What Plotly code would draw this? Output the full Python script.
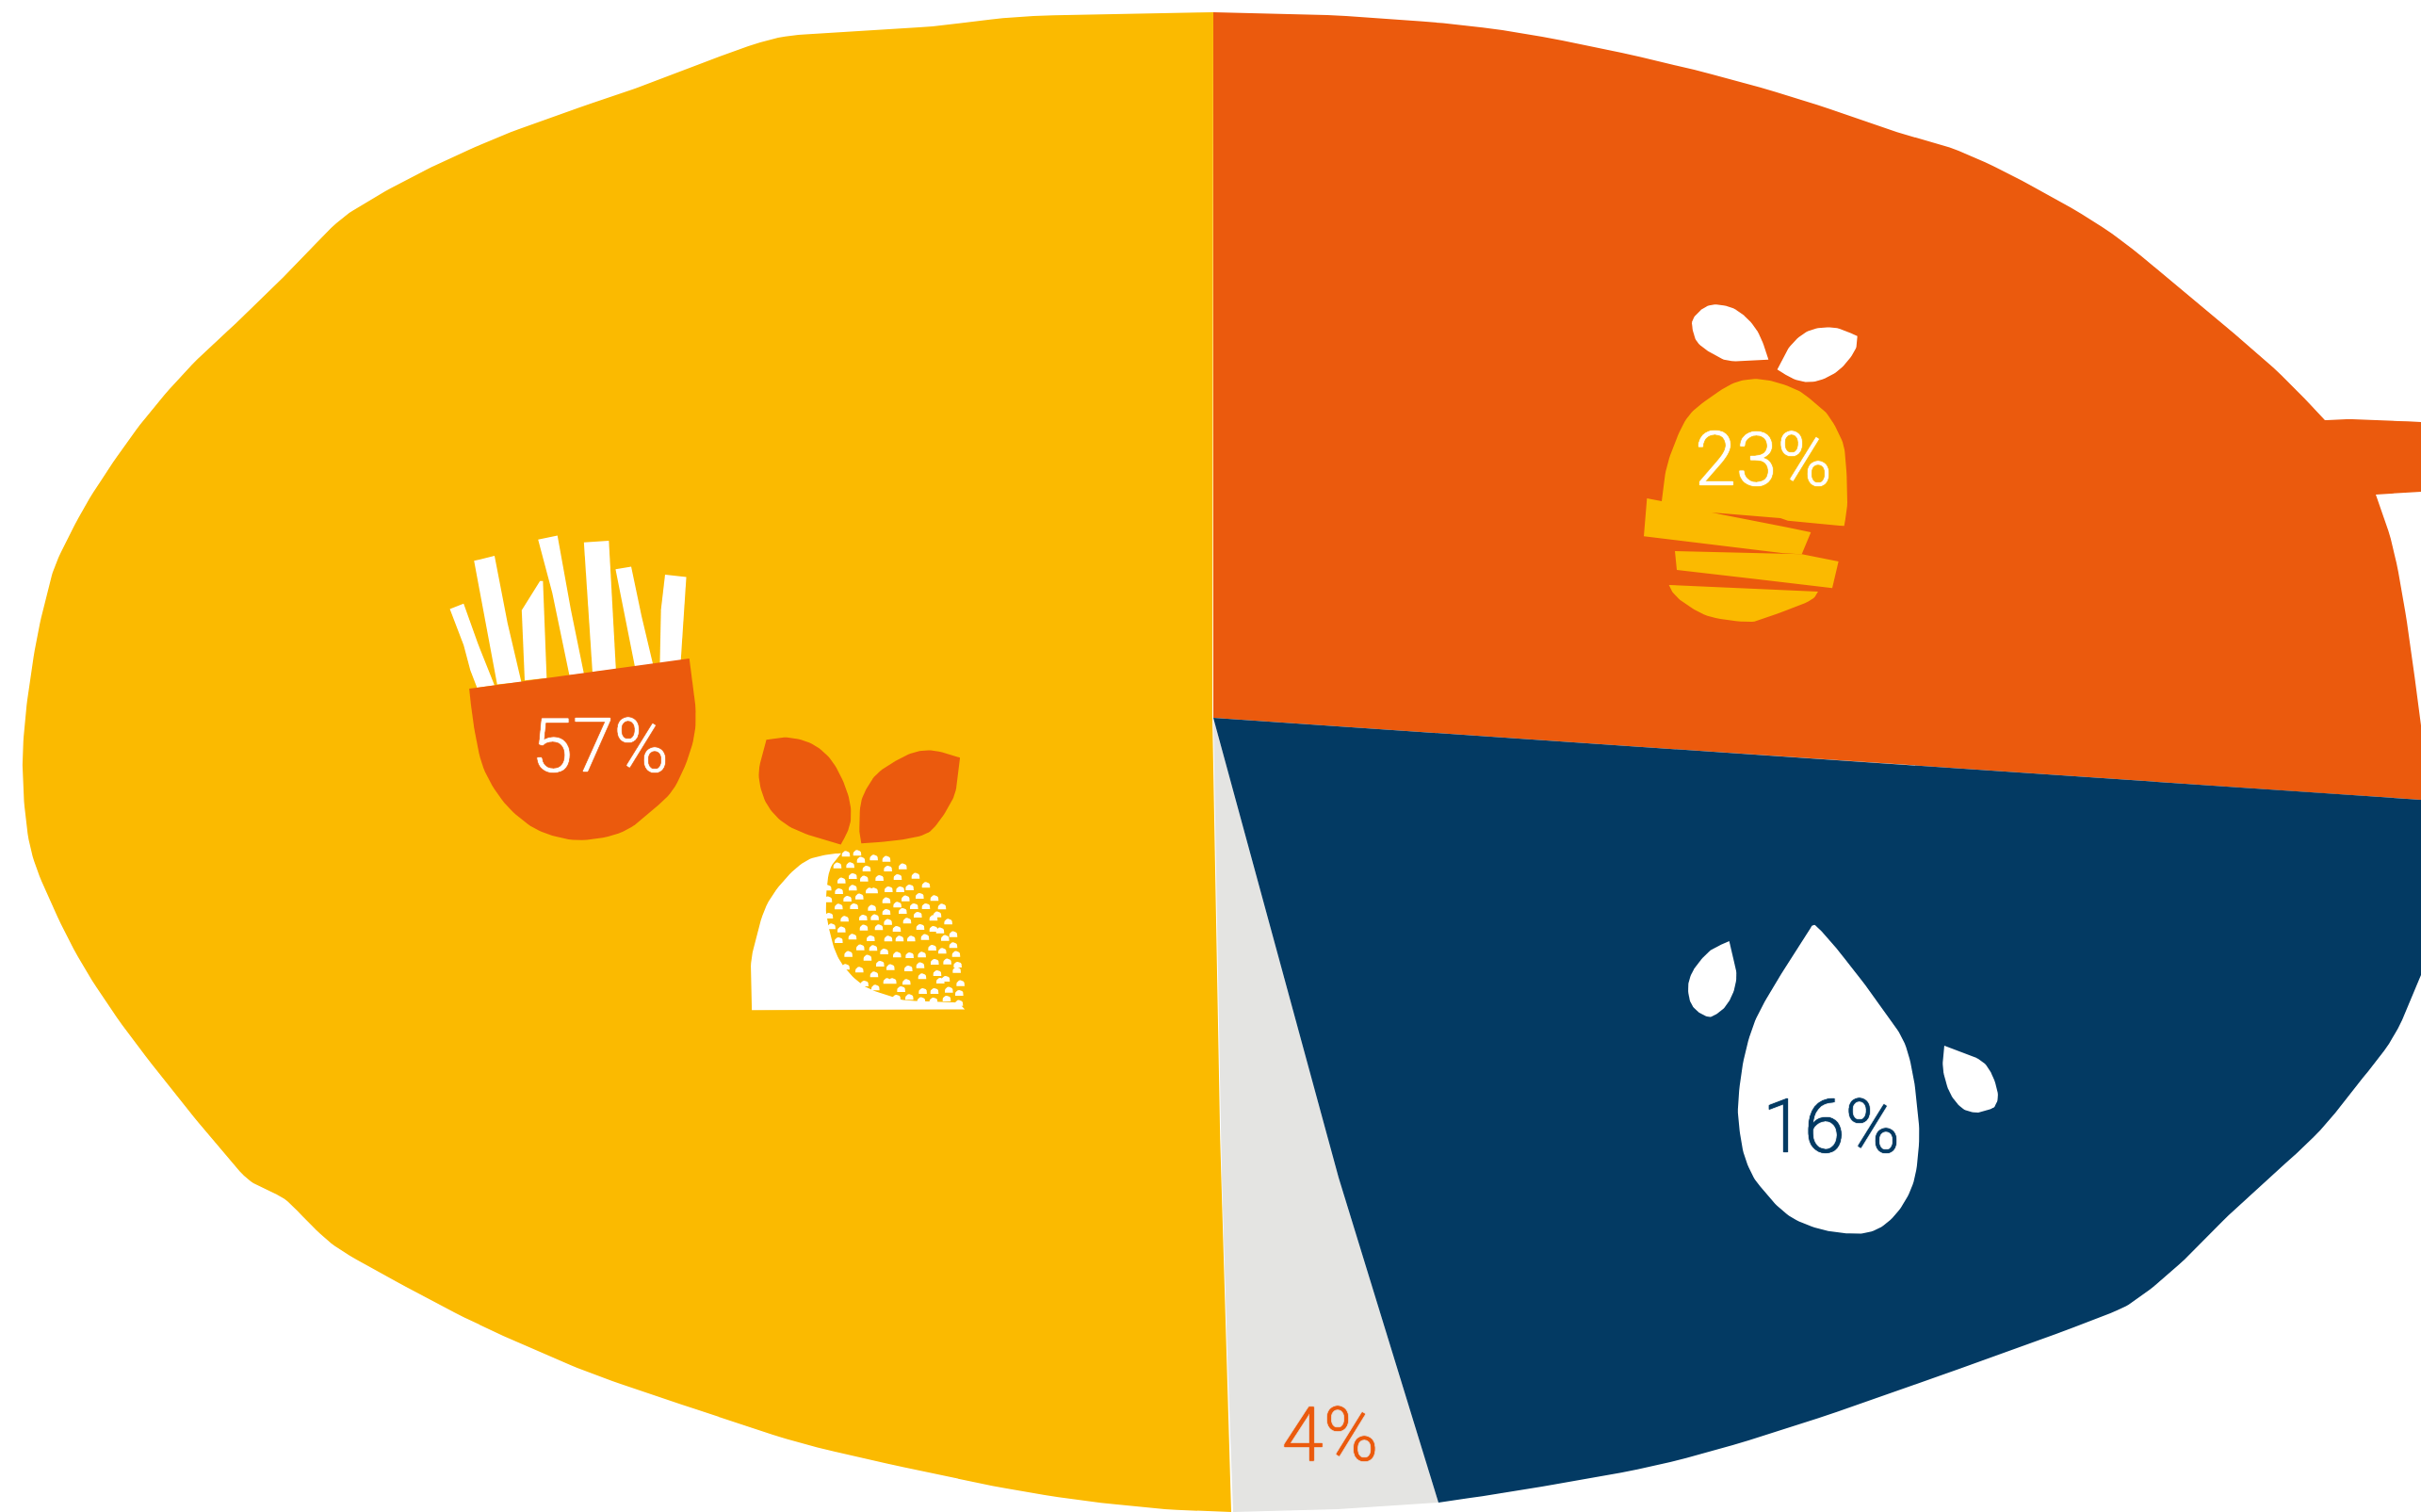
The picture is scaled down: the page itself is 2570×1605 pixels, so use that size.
import numpy as np
import plotly.graph_objects as go

# Shares of the four slices, clockwise from the top
categories = ["orange", "navy", "grey", "yellow"]
shares = [23, 16, 4, 57]
label_x = [1872, 1944, 1412, 637]
label_y = [495, 1203, 1530, 799]
label_colors = ["#FFFFFF", "#033A63", "#EB5A0D", "#FFFFFF"]

YELLOW = "#FBBA00"
ORANGE = "#EB5A0D"
NAVY = "#033A63"
GREY = "#E4E4E2"
WHITE = "#FFFFFF"

# Hand-cut slice outlines in canvas units
yellow_x = [1287, 1288, 1097, 990, 874, 807, 691, 650, 551, 491, 439, 392, 357, 307, 257, 203, 158, 124, 91, 62, 52, 41, 33, 27, 24, 24, 26, 33, 50, 83, 124, 174, 216, 259, 282, 305, 336, 365, 431, 502, 589, 650, 736, 851, 994, 1109, 1224, 1307, 1302, 1296]
yellow_y = [762, 13, 17, 28, 35, 45, 88, 102, 137, 162, 187, 213, 237, 288, 337, 388, 439, 485, 536, 592, 622, 668, 714, 760, 800, 815, 856, 903, 949, 1016, 1080, 1146, 1198, 1248, 1262, 1275, 1306, 1329, 1366, 1403, 1442, 1466, 1495, 1532, 1565, 1587, 1601, 1605, 1440, 1250]
orange_x = [1288, 1429, 1595, 1761, 1900, 2003, 2079, 2156, 2242, 2327, 2413, 2468, 2497, 2570, 2570, 2522, 2540, 2555, 2570, 2570, 1288]
orange_y = [13, 17, 32, 65, 102, 137, 160, 197, 248, 317, 390, 446, 445, 448, 522, 525, 580, 660, 770, 849, 762]
navy_x = [1288, 2570, 2570, 2541, 2497, 2456, 2374, 2319, 2271, 2230, 2080, 1910, 1773, 1637, 1527, 1421]
navy_y = [762, 849, 1035, 1100, 1158, 1207, 1282, 1337, 1377, 1398, 1453, 1512, 1552, 1578, 1595, 1250]
grey_x = [1288, 1297, 1303, 1309, 1420, 1527, 1421]
grey_y = [762, 1250, 1440, 1605, 1602, 1595, 1250]

# Fries and bowl, measured on a local grid
fry_shapes = [
    [(95, 298), (132, 282), (170, 400), (215, 525), (168, 532), (150, 480), (132, 405)],
    [(160, 155), (215, 140), (250, 340), (287, 515), (222, 522)],
    [(288, 302), (337, 215), (345, 215), (355, 503), (296, 510)],
    [(332, 92), (384, 80), (420, 300), (455, 490), (416, 495), (370, 250)],
    [(455, 100), (522, 95), (541, 478), (478, 485)],
    [(540, 180), (582, 172), (610, 320), (641, 465), (592, 470)],
    [(673, 196), (730, 203), (715, 455), (659, 460), (662, 300)],
]
bowl_shape = [(147, 535), (738, 445), (755, 600), (745, 705), (700, 825), (640, 895), (560, 960), (450, 985), (360, 968), (295, 930), (235, 865), (185, 770), (160, 650)]
leaf_a_shape = [(945, 687), (1000, 680), (1060, 695), (1110, 735), (1145, 795), (1168, 865), (1172, 920), (1163, 960), (1145, 998), (1060, 970), (1000, 940), (960, 900), (935, 850), (925, 780)]
leaf_b_shape = [(1200, 995), (1195, 960), (1198, 880), (1215, 830), (1245, 785), (1300, 745), (1350, 722), (1400, 720), (1465, 740), (1455, 830), (1440, 875), (1405, 935), (1370, 968), (1300, 985)]
crescent_shape = [(906, 1490), (903, 1370), (912, 1300), (945, 1180), (1000, 1095), (1055, 1045), (1110, 1028), (1146, 1024), (1115, 1075), (1105, 1170), (1110, 1230), (1130, 1315), (1160, 1370), (1210, 1420), (1280, 1450), (1330, 1462), (1460, 1466), (1478, 1488)]

# Domes that texture the right half of the lemon
dome_spots = [
    (114, 88), (150, 85), (87, 125), (128, 124), (162, 107), (203, 100), (243, 104), (180, 135), (248, 135), (295, 128),
    (100, 173), (136, 159), (172, 167), (221, 165), (279, 162), (336, 158), (369, 187),
    (92, 207), (136, 196), (190, 205), (203, 205), (250, 201), (287, 201), (317, 195), (396, 229),
    (119, 231), (157, 224), (243, 236), (304, 230), (349, 222), (420, 256),
    (91, 256), (140, 255), (197, 260), (278, 250), (331, 255), (369, 255), (295, 270), (405, 281), (393, 292), (440, 304),
    (243, 273), (169, 291), (206, 290), (343, 282), (110, 295), (309, 301), (248, 305),
    (100, 329), (171, 323), (219, 322), (276, 327), (351, 321), (393, 327), (414, 332), (456, 344), (430, 356),
    (91, 363), (135, 352), (193, 357), (249, 358), (285, 358), (322, 358), (366, 353),
    (160, 386), (201, 388), (236, 399), (277, 409), (317, 411), (356, 409), (389, 387), (421, 397), (456, 379), (465, 407),
    (122, 407), (183, 419), (223, 438), (256, 449), (313, 453), (351, 443), (397, 432), (437, 431), (470, 441), (467, 458),
    (157, 457), (204, 472), (246, 493), (262, 493), (307, 496), (357, 478), (405, 468), (415, 492), (432, 486), (479, 500),
    (208, 514), (290, 519), (359, 525), (396, 525), (442, 521), (475, 531),
    (316, 544), (354, 554), (393, 555), (435, 549), (474, 563), (275, 546),
    (55, 196), (57, 233), (60, 285), (68, 319), (113, 448), (173, 501),
]

# Sliced orange and its leaves
orange_top_shape = [(145, 717), (192, 726), (205, 630), (230, 550), (270, 465), (320, 415), (405, 358), (470, 338), (540, 343), (620, 370), (670, 405), (720, 450), (765, 530), (778, 600), (783, 730), (773, 805), (600, 790), (570, 780), (350, 762), (500, 790), (667, 825), (638, 895), (580, 892), (135, 838)]
orange_mid_shape = [(234, 885), (580, 893), (638, 895), (755, 918), (735, 1003), (500, 975), (240, 945)]
orange_low_shape = [(215, 993), (690, 1014), (660, 1045), (530, 1095), (470, 1110), (350, 1095), (270, 1055), (230, 1020)]
orange_leaf_a = [(290, 150), (320, 115), (360, 100), (420, 112), (470, 150), (505, 200), (532, 275), (415, 280), (360, 260), (310, 225), (293, 190)]
orange_leaf_b = [(560, 307), (595, 240), (640, 195), (690, 175), (750, 175), (815, 200), (810, 240), (780, 285), (740, 320), (680, 345), (620, 340)]

# Water drops
drop_big = [(490, 68), (505, 70), (560, 130), (640, 230), (720, 340), (780, 430), (810, 530), (825, 640), (832, 740), (820, 860), (790, 940), (740, 1005), (680, 1042), (610, 1048), (520, 1035), (440, 1005), (385, 965), (340, 915), (305, 870), (275, 800), (260, 720), (255, 640), (270, 510), (300, 395), (340, 310), (400, 210), (460, 120)]
drop_left = [(227, 117), (240, 170), (250, 225), (240, 280), (215, 325), (185, 350), (160, 358), (125, 340), (103, 310), (96, 265), (105, 225), (130, 185), (170, 145)]
drop_right = [(912, 450), (1020, 492), (1060, 535), (1082, 600), (1075, 640), (1050, 655), (1010, 663), (970, 650), (935, 610), (915, 560), (907, 510)]


def place(points, ox, oy, sx, sy):
    """Map a local-grid outline onto the canvas."""
    xs = [ox + p[0] / sx for p in points]
    ys = [oy + p[1] / sy for p in points]
    return xs, ys


def rounded(xs, ys, corners, steps=8):
    """Round a closed outline with Catmull-Rom runs, keeping the listed corners sharp."""
    pts = np.column_stack([xs, ys]).astype(float)
    n = len(pts)
    corners = sorted(corners)
    out = []
    for a, b in zip(corners, corners[1:] + [corners[0] + n]):
        run = pts[[i % n for i in range(a, b + 1)]]
        padded = np.vstack([run[0], run, run[-1]])
        for i in range(1, len(padded) - 2):
            p0, p1, p2, p3 = padded[i - 1:i + 3]
            for t in np.linspace(0, 1, steps, endpoint=False):
                out.append(0.5 * (2 * p1 + (p2 - p0) * t + (2 * p0 - 5 * p1 + 4 * p2 - p3) * t ** 2
                                  + (3 * p1 - p0 - 3 * p2 + p3) * t ** 3))
    out = np.array(out)
    return list(out[:, 0]), list(out[:, 1])


def area(fig, xs, ys, color, corners=None):
    if corners is not None:
        xs, ys = rounded(xs, ys, corners)
    fig.add_trace(go.Scatter(
        x=list(xs) + [xs[0]], y=list(ys) + [ys[0]],
        mode="lines", fill="toself", fillcolor=color,
        line=dict(width=0, color=color),
        hoverinfo="skip", showlegend=False,
    ))


fig = go.Figure()

area(fig, yellow_x, yellow_y, YELLOW, corners=[0, 1, 47, 48, 49])
area(fig, orange_x, orange_y, ORANGE, corners=[0, 11, 13, 14, 15, 18, 19, 20])
area(fig, grey_x, grey_y, GREY)
area(fig, navy_x, navy_y, NAVY, corners=[0, 1, 2, 14, 15])

# Fries in their bowl
FRIES = (440, 540, 2.53, 2.8)
for shape in fry_shapes:
    area(fig, *place(shape, *FRIES), WHITE)
area(fig, *place(bowl_shape, *FRIES), ORANGE, corners=[0, 1])

# Lemon half
area(fig, *place(leaf_a_shape, *FRIES), ORANGE, corners=[0, 8])
area(fig, *place(leaf_b_shape, *FRIES), ORANGE, corners=[0, 8])
area(fig, *place(crescent_shape, *FRIES), WHITE, corners=[0, 7, 16, 17])

dx, dy = [], []
arc = np.linspace(0, np.pi, 9)
for cx, base in dome_spots:
    px = 860 + cx / 3
    py = 880 + base / 3
    dx += [px + 4.3] + list(px + 4.3 * np.cos(arc)) + [px - 4.3, None]
    dy += [py] + list(py - 2.2 - 3.9 * np.sin(arc)) + [py, None]
fig.add_trace(go.Scatter(x=dx, y=dy, mode="lines", fill="toself", fillcolor=WHITE,
                         line=dict(width=0, color=WHITE), hoverinfo="skip", showlegend=False))

# Sliced orange
ORANGE_ICON = (1700, 290, 3, 3)
area(fig, *place(orange_top_shape, *ORANGE_ICON), YELLOW, corners=[0, 1, 15, 16, 17, 18, 19, 20, 21, 22, 23])
area(fig, *place(orange_mid_shape, *ORANGE_ICON), YELLOW)
area(fig, *place(orange_low_shape, *ORANGE_ICON), YELLOW, corners=[0, 1])
area(fig, *place(orange_leaf_a, *ORANGE_ICON), WHITE, corners=[6])
area(fig, *place(orange_leaf_b, *ORANGE_ICON), WHITE, corners=[0, 5])

# Drops
DROPS = (1760, 960, 3, 3)
area(fig, *place(drop_big, *DROPS), WHITE, corners=[0])
area(fig, *place(drop_left, *DROPS), WHITE, corners=[0])
area(fig, *place(drop_right, *DROPS), WHITE, corners=[0])

# Percentage labels, with a tight glow to thicken the light strokes
for value, x, y, color in zip(shares, label_x, label_y, label_colors):
    fig.add_trace(go.Scatter(
        x=[x], y=[y], mode="text", text=[f"{value}%"], textposition="middle center",
        textfont=dict(family="Roboto", size=79, color=color, weight=300,
                      shadow=f"0 0 1px {color}, 0 0 1px {color}"),
        hoverinfo="skip", showlegend=False,
    ))

fig.update_layout(
    width=2570, height=1605, margin=dict(l=0, r=0, t=0, b=0),
    paper_bgcolor=WHITE, plot_bgcolor=WHITE,
    xaxis=dict(range=[0, 2570], visible=False, fixedrange=True),
    yaxis=dict(range=[1605, 0], visible=False, fixedrange=True),
)
fig.write_html("out.html")
